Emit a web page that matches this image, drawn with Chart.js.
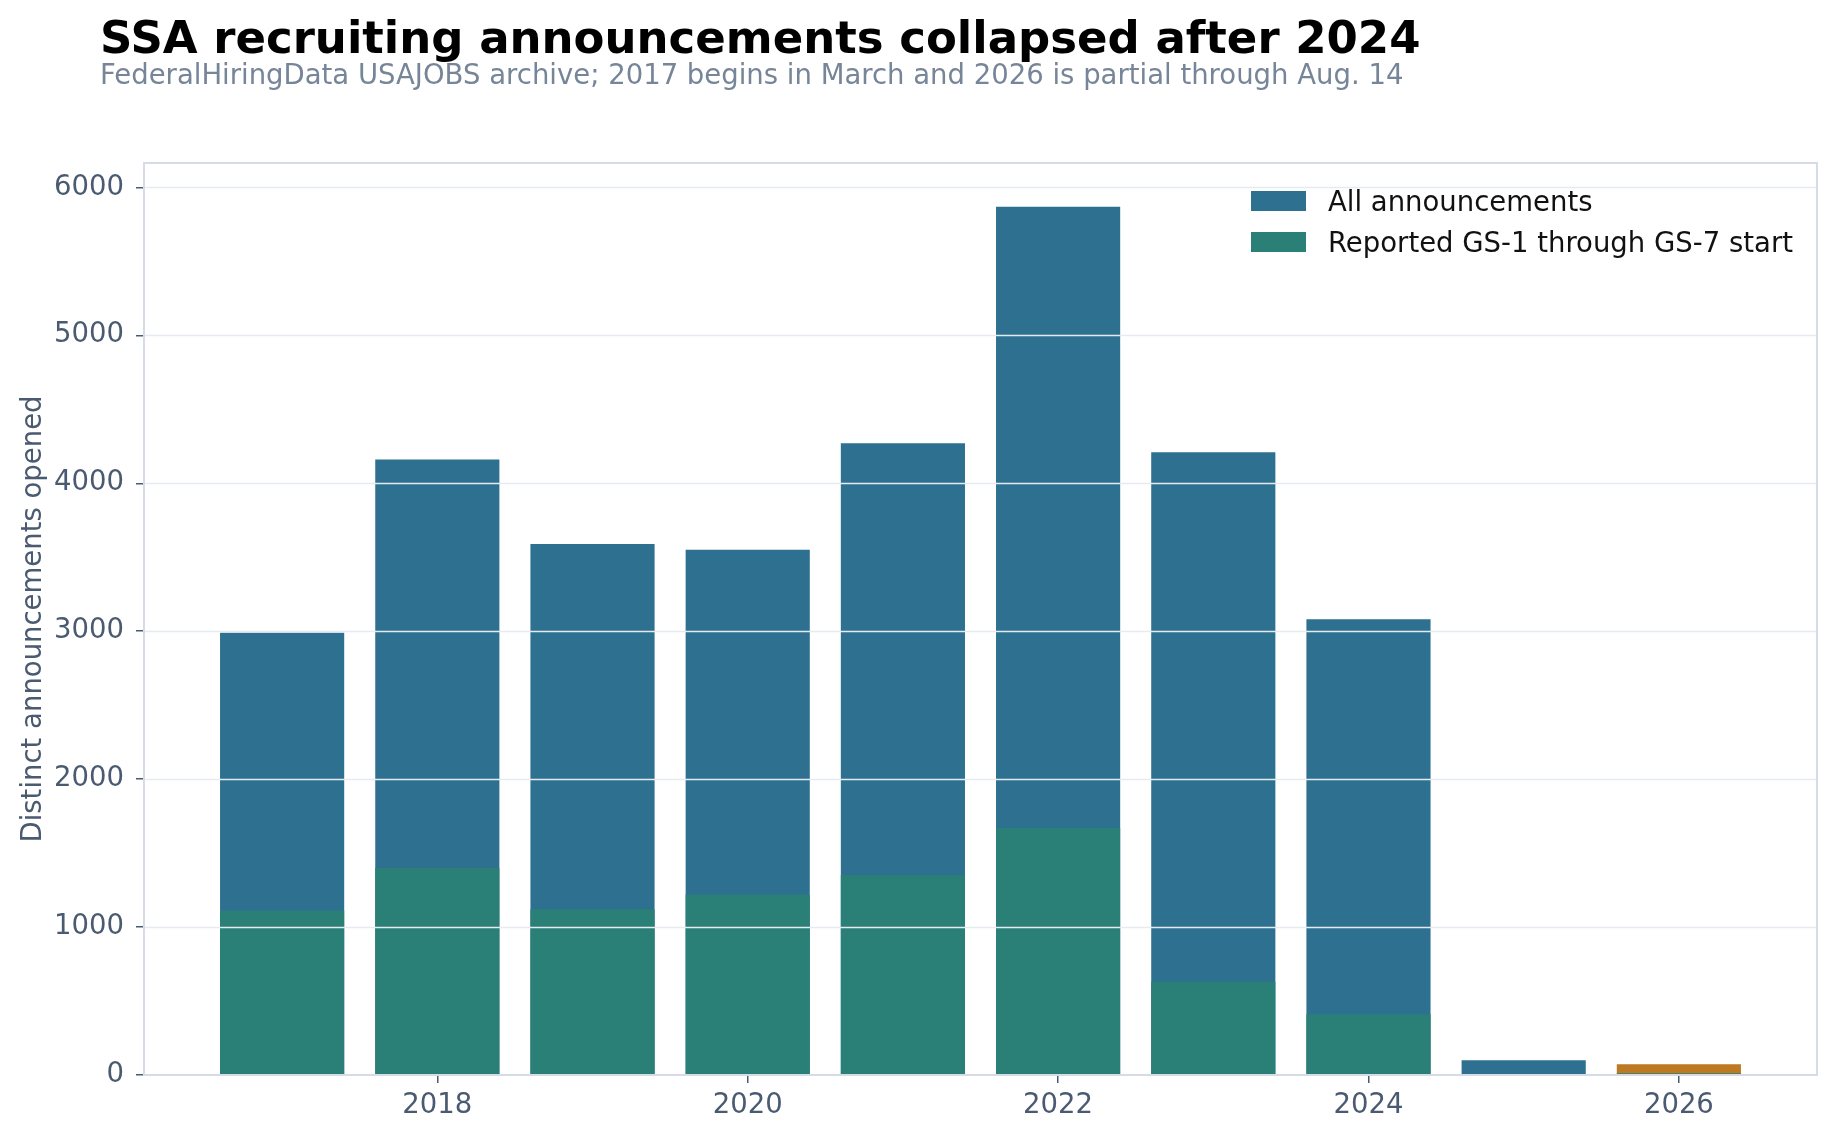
<!DOCTYPE html>
<html lang="en">
<head>
    <meta charset="UTF-8">
    <title>SSA recruiting announcements collapsed after 2024</title>
    <style>
        body {
            margin: 0;
            background: #fff;
            font-family: "DejaVu Sans", sans-serif;
        }
        .wrap {
            position: relative;
            width: 1835px;
            height: 1138px;
        }
        canvas {
            position: absolute;
            left: 0;
            top: 0;
        }
        h1 {
            position: absolute;
            left: 100px;
            top: 15px;
            margin: 0;
            font-size: 45px;
            line-height: 45px;
            color: #000;
            white-space: nowrap;
        }
        .sub {
            position: absolute;
            left: 100px;
            top: 61px;
            margin: 0;
            font-size: 27.5px;
            line-height: 27.5px;
            color: #778599;
            white-space: nowrap;
        }
        #legend {
            position: absolute;
            left: 1251px;
            top: 180px;
        }
        .item {
            display: flex;
            align-items: center;
            height: 41px;
            font-size: 27.5px;
            color: #111;
            white-space: nowrap;
        }
        .swatch {
            width: 55px;
            height: 20px;
            margin-right: 22px;
        }
    </style>
    <script src="https://cdn.jsdelivr.net/npm/chart.js"></script>
</head>
<body>
<div class="wrap">
    <canvas id="chart" width="1835" height="1138"></canvas>
    <h1>SSA recruiting announcements collapsed after 2024</h1>
    <p class="sub">FederalHiringData USAJOBS archive; 2017 begins in March and 2026 is partial through Aug. 14</p>
    <div id="legend"></div>
</div>

<script>
    // values
    const years = [2017, 2018, 2019, 2020, 2021, 2022, 2023, 2024, 2025, 2026];
    const allCounts = [2990, 4160, 3590, 3550, 4270, 5870, 4210, 3080, 100, 72];
    const entryCounts = [1110, 1400, 1120, 1220, 1350, 1670, 630, 410, 0, 12];
    const xTicks = [2018, 2020, 2022, 2024, 2026];
    const yTicks = [0, 1000, 2000, 3000, 4000, 5000, 6000];
    const partialYear = 2026;

    const BLUE = '#2e708f';
    const GREEN = '#2a7f77';
    const ORANGE = '#bd7a22';
    const AXIS_TEXT = '#4a5a70';

    // gridlines sit on top of the bars, plus a light frame round the plot
    const gridOnTop = {
        id: 'gridOnTop',
        afterDatasetsDraw(chart) {
            const { ctx, chartArea: a, scales: { y } } = chart;
            ctx.save();
            ctx.strokeStyle = '#e6ebf1';
            ctx.lineWidth = 1.5;
            y.ticks.forEach(t => {
                if (t.value === 0) return;
                const py = Math.round(y.getPixelForValue(t.value)) + 0.5;
                ctx.beginPath();
                ctx.moveTo(a.left, py);
                ctx.lineTo(a.right, py);
                ctx.stroke();
            });
            ctx.strokeStyle = '#d5dce6';
            ctx.lineWidth = 2;
            ctx.strokeRect(a.left, a.top, a.right - a.left, a.bottom - a.top);
            ctx.restore();
        }
    };

    const datasets = [
        {
            label: 'All announcements',
            data: years.map((x, i) => ({ x: x, y: allCounts[i] })),
            backgroundColor: years.map(x => x === partialYear ? ORANGE : BLUE),
            legendColor: BLUE,
            order: 2
        },
        {
            label: 'Reported GS-1 through GS-7 start',
            data: years.map((x, i) => ({ x: x, y: entryCounts[i] })),
            backgroundColor: GREEN,
            legendColor: GREEN,
            order: 1
        }
    ];
    datasets.forEach(d => {
        d.grouped = false;
        d.barPercentage = 0.8;
        d.categoryPercentage = 1;
        d.borderWidth = 0;
    });

    const tickFont = { family: 'DejaVu Sans', size: 27.5 };

    new Chart(document.getElementById('chart'), {
        type: 'bar',
        data: { datasets: datasets },
        plugins: [gridOnTop],
        options: {
            responsive: false,
            animation: false,
            layout: { padding: { top: 163, right: 18, bottom: 0, left: 0 } },
            plugins: {
                legend: { display: false },
                tooltip: { enabled: false }
            },
            scales: {
                x: {
                    type: 'linear',
                    min: 2016.11,
                    max: 2026.89,
                    offset: false,
                    border: { display: false },
                    grid: {
                        drawOnChartArea: false,
                        offset: false,
                        color: AXIS_TEXT,
                        tickLength: 8,
                        lineWidth: 1.5
                    },
                    ticks: {
                        font: tickFont,
                        color: AXIS_TEXT,
                        padding: 6,
                        callback: v => String(v)
                    },
                    afterBuildTicks: s => { s.ticks = xTicks.map(v => ({ value: v })); },
                    afterFit: s => { s.height = 63; }
                },
                y: {
                    min: 0,
                    max: 6165,
                    border: { display: false },
                    grid: {
                        drawOnChartArea: false,
                        color: AXIS_TEXT,
                        tickLength: 8,
                        lineWidth: 1.5
                    },
                    ticks: {
                        font: tickFont,
                        color: AXIS_TEXT,
                        padding: 12,
                        callback: v => String(v)
                    },
                    title: {
                        display: true,
                        text: 'Distinct announcements opened',
                        font: tickFont,
                        color: AXIS_TEXT,
                        padding: { top: 17, bottom: 0 }
                    },
                    afterBuildTicks: s => { s.ticks = yTicks.map(v => ({ value: v })); },
                    afterFit: s => { s.width = 144; }
                }
            }
        }
    });

    // legend box in the upper right of the plot
    const legend = document.getElementById('legend');
    datasets.forEach(d => {
        const row = document.createElement('div');
        row.className = 'item';
        const sw = document.createElement('span');
        sw.className = 'swatch';
        sw.style.background = d.legendColor;
        row.appendChild(sw);
        row.appendChild(document.createTextNode(d.label));
        legend.appendChild(row);
    });
</script>
</body>
</html>
